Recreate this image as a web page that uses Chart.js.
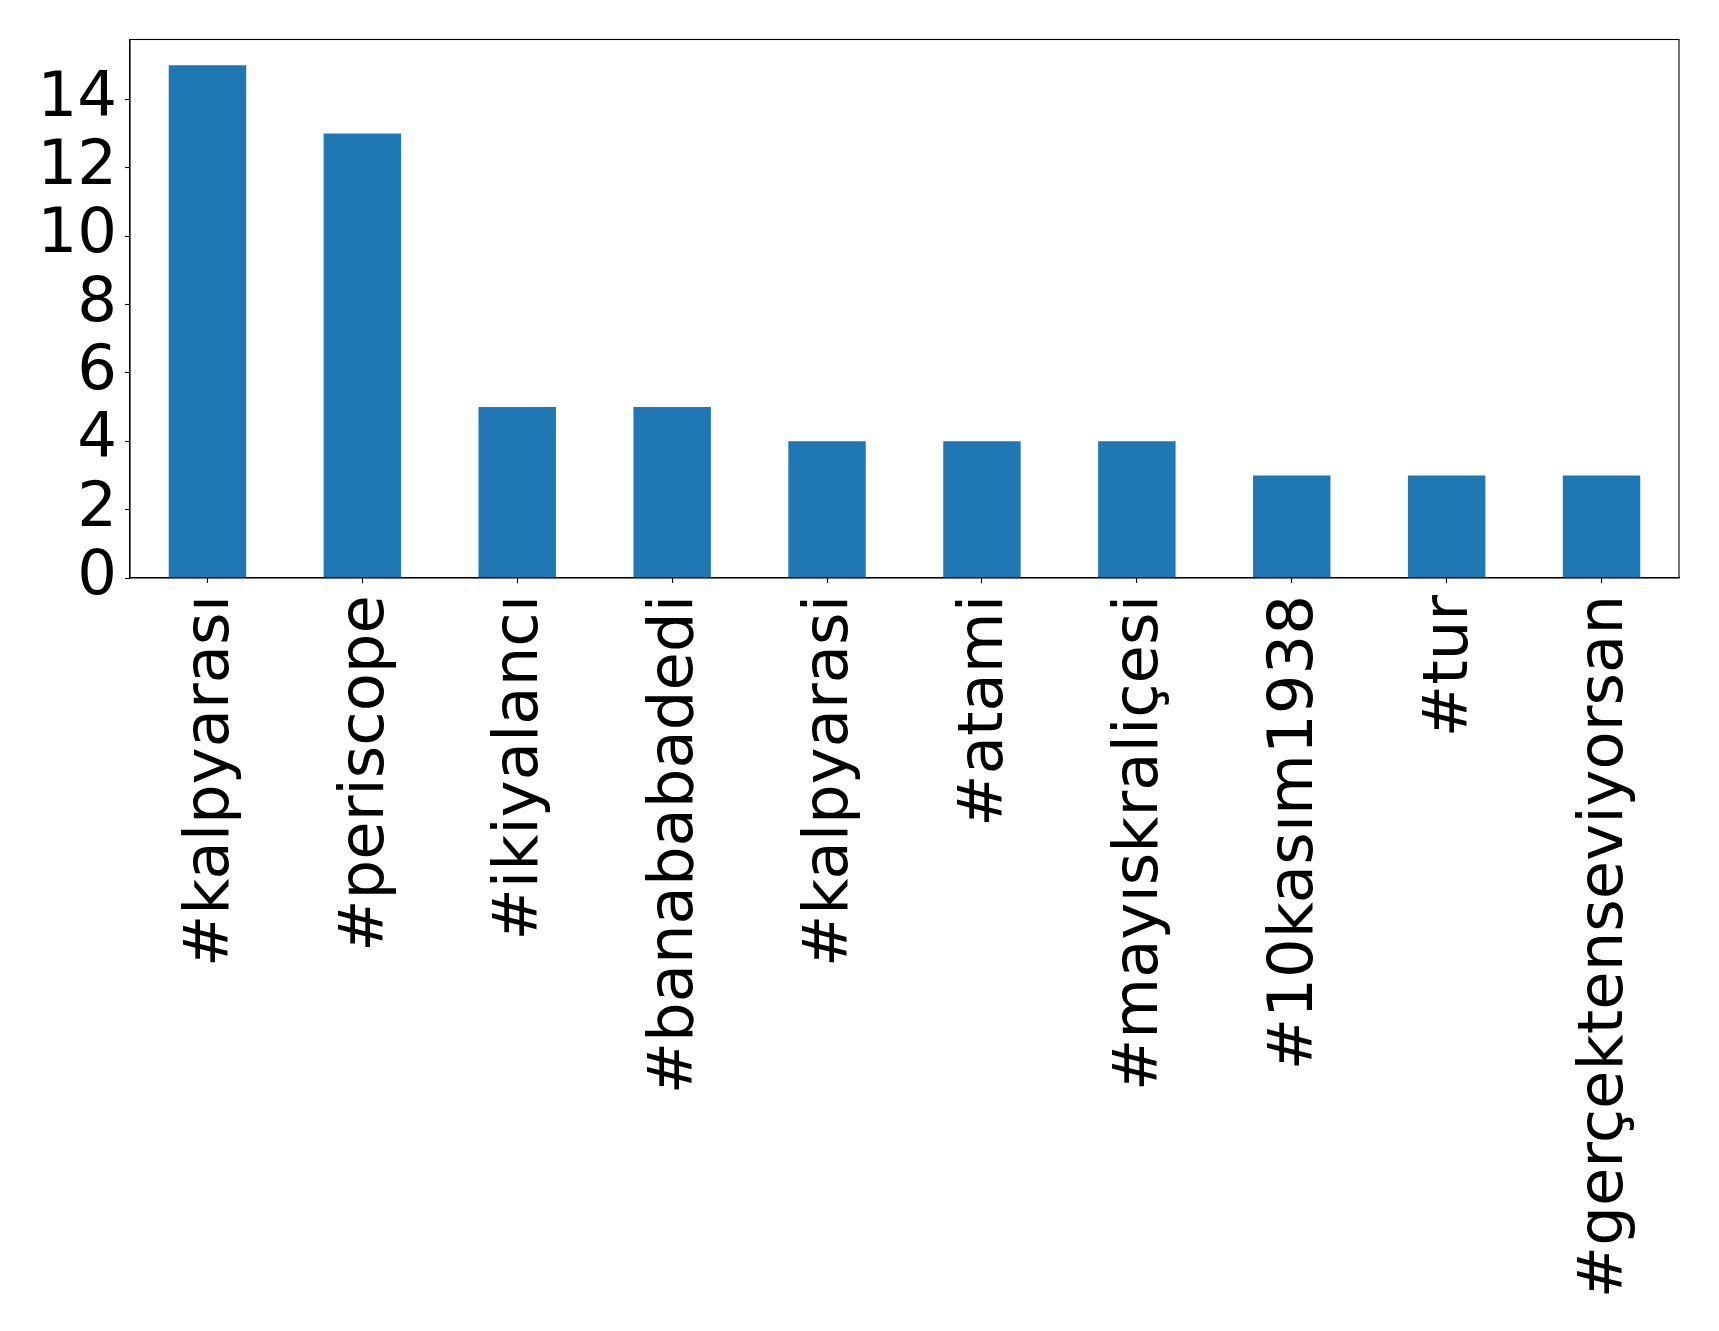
<!DOCTYPE html>
<html>
<head>
<meta charset="utf-8">
<script src="https://cdn.jsdelivr.net/npm/chart.js@4.4.0/dist/chart.umd.min.js"></script>
<style>
  html, body { margin: 0; padding: 0; background: #fff; }
  #wrap { width: 1719px; height: 1331px; position: relative; }
</style>
</head>
<body>
<div id="wrap"><canvas id="hashtag-chart"></canvas></div>
<script>
// hashtag counts
const hashtags = ['#kalpyarası', '#periscope', '#ikiyalancı', '#banababadedi', '#kalpyarasi',
    '#atami', '#mayıskraliçesi', '#10kasım1938', '#tur', '#gerçektenseviyorsan'];
const counts = [15, 13, 5, 5, 4, 4, 4, 3, 3, 3];
const yTicks = [0, 2, 4, 6, 8, 10, 12, 14];

const barColor = '#1f77b4';
const fontFamily = '"DejaVu Sans", sans-serif';

// plot box edges
const plotLeft = 130;
const plotRight = 1679;
const plotTop = 39.5;
const plotBottom = 578;

// matplotlib draws a full frame, chart.js only the axis lines
const framePlugin = {
    id: 'frame',
    afterDraw(chart) {
        const { ctx, chartArea } = chart;
        ctx.save();
        ctx.strokeStyle = '#000';
        ctx.lineWidth = 1.1;
        ctx.strokeRect(chartArea.left, chartArea.top, chartArea.right - chartArea.left, chartArea.bottom - chartArea.top);
        ctx.restore();
    }
};

const ctx = document.getElementById('hashtag-chart').getContext('2d');
new Chart(ctx, {
    type: 'bar',
    data: {
        labels: hashtags,
        datasets: [{
            data: counts,
            backgroundColor: barColor,
            borderWidth: 0,
            categoryPercentage: 1.0,
            barPercentage: 0.5
        }]
    },
    options: {
        responsive: true,
        maintainAspectRatio: false,
        animation: false,
        layout: {
            padding: { top: plotTop, right: 1719 - plotRight, left: 0, bottom: 0 }
        },
        plugins: {
            legend: { display: false },
            tooltip: { enabled: false }
        },
        scales: {
            x: {
                offset: true,
                grid: {
                    offset: false,
                    drawOnChartArea: false,
                    drawTicks: true,
                    tickLength: 5,
                    tickWidth: 1.1,
                    tickColor: '#000'
                },
                border: { color: '#000', width: 1.1 },
                ticks: {
                    color: '#000',
                    font: { family: fontFamily, size: 62.5 },
                    minRotation: 90,
                    maxRotation: 90,
                    autoSkip: false,
                    labelOffset: 4,
                    padding: 12
                },
                afterFit(scale) {
                    scale.height = 1331 - plotBottom;
                    scale.paddingLeft = 0;
                    scale.paddingRight = 0;
                }
            },
            y: {
                min: 0,
                max: 15.75,
                afterBuildTicks(scale) {
                    scale.ticks = yTicks.map(v => ({ value: v }));
                },
                grid: {
                    drawOnChartArea: false,
                    drawTicks: true,
                    tickLength: 5,
                    tickWidth: 1.1,
                    tickColor: '#000'
                },
                border: { color: '#000', width: 1.1 },
                ticks: {
                    color: '#000',
                    font: { family: fontFamily, size: 62.5 },
                    autoSkip: false,
                    padding: 8
                },
                afterFit(scale) {
                    scale.width = plotLeft;
                    scale.paddingTop = 0;
                    scale.paddingBottom = 0;
                }
            }
        }
    },
    plugins: [framePlugin]
});
</script>
</body>
</html>
